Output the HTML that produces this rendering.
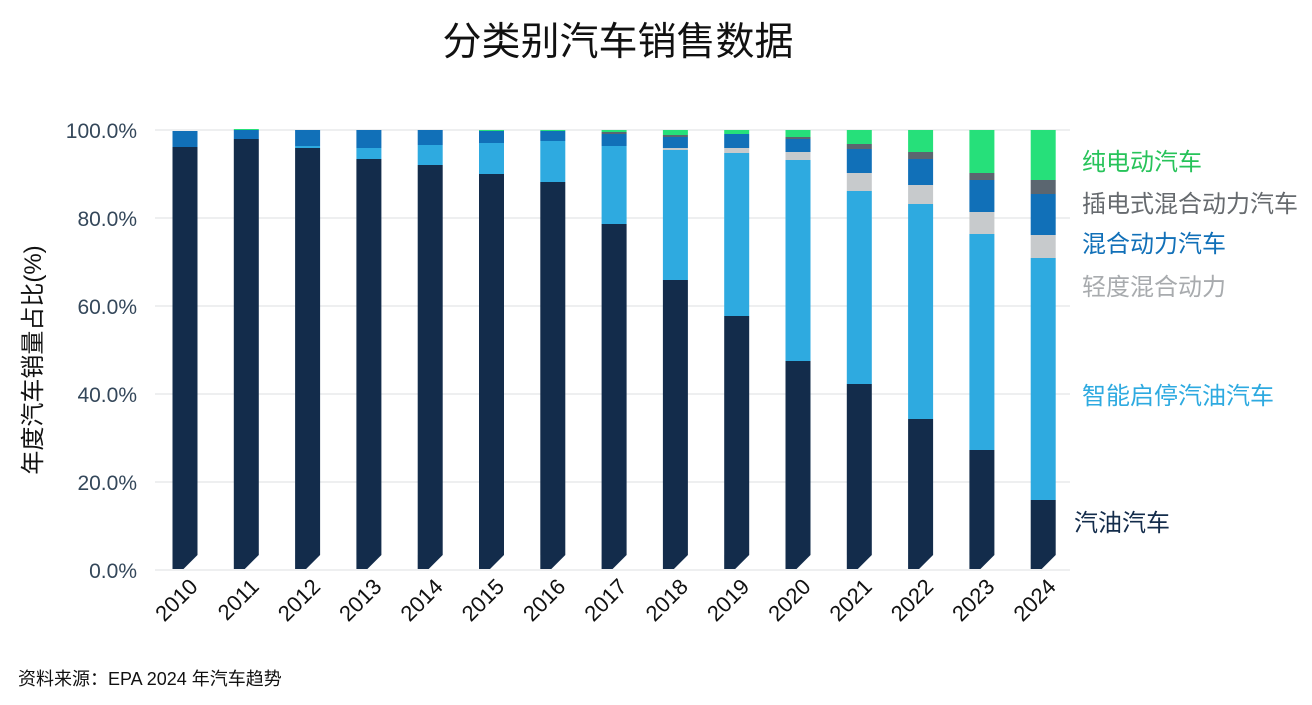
<!DOCTYPE html>
<html><head><meta charset="utf-8"><style>
html,body{margin:0;padding:0;background:#fff;}
svg text{font-family:"Liberation Sans","Noto Sans CJK SC",sans-serif;}
</style></head><body>
<svg width="1312" height="700" xmlns="http://www.w3.org/2000/svg">
<text x="618" y="55" font-size="39" text-anchor="middle" fill="#111">分类别汽车销售数据</text>
<g stroke="#e8eaec" stroke-width="1.5">
<line x1="155" y1="130" x2="1070" y2="130"/><line x1="155" y1="218" x2="1070" y2="218"/>
<line x1="155" y1="306" x2="1070" y2="306"/><line x1="155" y1="394" x2="1070" y2="394"/>
<line x1="155" y1="482" x2="1070" y2="482"/><line x1="155" y1="570" x2="1070" y2="570"/>
</g>
<g font-size="21" fill="#34475a" text-anchor="end">
<text x="137" y="138">100.0%</text><text x="137" y="226">80.0%</text><text x="137" y="314">60.0%</text>
<text x="137" y="402">40.0%</text><text x="137" y="490">20.0%</text><text x="137" y="578">0.0%</text>
</g>
<text transform="translate(41,360) rotate(-90)" font-size="24" text-anchor="middle" fill="#111">年度汽车销量占比(%)</text>
<g id="bars"></g>
<g font-size="24">
<text x="1082" y="170" fill="#27c35a">纯电动汽车</text>
<text x="1082" y="212" fill="#666a6e">插电式混合动力汽车</text>
<text x="1082" y="252" fill="#1170b8">混合动力汽车</text>
<text x="1082" y="295" fill="#a8abae">轻度混合动力</text>
<text x="1082" y="404" fill="#2eaae0">智能启停汽油汽车</text>
<text x="1074" y="531" fill="#132c4b">汽油汽车</text>
</g>
<text x="18" y="685" font-size="18" fill="#111">资料来源：EPA 2024 年汽车趋势</text>
</svg>
<script>
var C=["#26e07a","#5b6670","#1170b8","#c7cacc","#2eaae0","#132c4b"];
var D=[[131,131,131,147,147,147],[129,130,130,139,139,139],[130,130,130,146,146,148],[130,130,130,148,148,159],
[130,130,130,145,145,165],[130,131,131,143,143,174],[130,131,131,141,141,182],[130,132,134,146,146,224],
[130,135,137,148,150,280],[130,134,134,148,153,316],[130,137,139,152,160,361],[130,144,149,173,191,384],
[130,152,159,185,204,419],[130,173,180,212,234,450],[130,180,194,235,258,500]];
var g=document.getElementById("bars"),s="";
D.forEach(function(d,i){var cx=185+i*61.3,x=cx-12.5,w=25;
for(var k=0;k<6;k++){var t=d[k],b=k<5?d[k+1]:569;if(b-t<=0)continue;
if(k==5){s+='<path d="M'+x+' '+t+'H'+(x+w)+'V'+(b-14)+'L'+(x+w-14)+' '+b+'H'+x+'Z" fill="'+C[k]+'"/>';}
else s+='<rect x="'+x+'" y="'+t+'" width="'+w+'" height="'+(b-t)+'" fill="'+C[k]+'"/>';}
s+='<text transform="translate('+(cx+14)+',588) rotate(-45)" font-size="22" text-anchor="end" fill="#111">'+(2010+i)+'</text>';
});
g.innerHTML=s;
</script>
</body></html>
